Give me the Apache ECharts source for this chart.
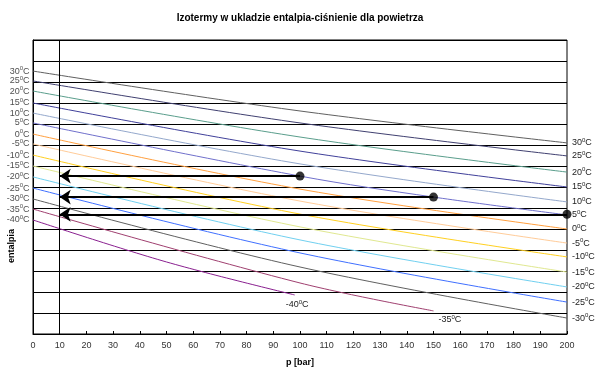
<!DOCTYPE html>
<html><head><meta charset="utf-8">
<script src="https://cdn.jsdelivr.net/npm/echarts@6/dist/echarts.min.js"></script>
<style>html,body{margin:0;padding:0;background:#fff}#c{width:600px;height:373px}</style>
</head><body><div id="c"></div>
<script>
// ---- data (enthalpy in arbitrary units, 10 per grid step) ----
const titleText = 'Izotermy w ukladzie entalpia-ciśnienie dla powietrza';
const yName = 'entalpia';
const temps = ['30','25','20','15','10','5','0','-5','-10','-15','-20','-25','-30','-35','-40'];
const pFull = [0, 100, 200];
const h30 = [125.2, 106.2, 91.0];
const h25 = [120.5, 100.5, 84.8];
const h20 = [115.7, 93.8, 77.1];
const h15 = [110.0, 87.1, 70.0];
const h10 = [105.2, 81.0, 62.9];
const p5  = [0, 100, 150, 200];
const h5  = [100.5, 75.2, 65.2, 56.7];
const h0  = [95.2, 69.0, 50.0];
const hm5 = [90.5, 63.3, 43.3];
const hm10 = [85.2, 57.1, 36.7];
const hm15 = [80.0, 51.0, 29.5];
const hm20 = [74.8, 44.8, 22.4];
const hm25 = [69.5, 38.6, 15.2];
const hm30 = [64.3, 31.9, 7.6];
const pm35 = [0, 100, 150];
const hm35 = [59.5, 24.3, 11.0];
const pm40 = [0, 50, 98];
const hm40 = [54.3, 34.3, 18.6];
const markerP = [100, 150, 200];
const markerH = [75.2, 65.2, 57.0];
const arrowEndP = 10;
const xTicks = [0, 200, 10];

const isoP = [pFull,pFull,pFull,pFull,pFull,p5,pFull,pFull,pFull,pFull,pFull,pFull,pFull,pm35,pm40];
const isoH = [h30,h25,h20,h15,h10,h5,h0,hm5,hm10,hm15,hm20,hm25,hm30,hm35,hm40];
const colors = ['#606060','#404070','#5a9e8c','#40409a','#94a8cc','#7070cc','#ffa040','#ffcc99','#ffd020','#e0e890','#70d0f0','#4070ff','#606060','#a04070','#8a2090'];

const rich = {
  t: {fontSize: 9, color: '#222', fontFamily: 'Liberation Sans', lineHeight: 11},
  s: {fontSize: 6, color: '#222', fontFamily: 'Liberation Sans', lineHeight: 11, verticalAlign: 'top', padding: [0,0,4,0]}
};
const fmt = t => '{t|' + t + '}{s|0}{t|C}';

const series = temps.map((t, i) => {
  const short = (t === '-35' || t === '-40');
  return {
    type: 'line', data: isoP[i].map((p, j) => [p, isoH[i][j]]), smooth: 0.35, symbol: 'none',
    silent: true,
    lineStyle: {color: colors[i], width: 1},
    endLabel: {show: true, distance: 5, formatter: fmt(t), rich: rich,
      offset: short ? (t === '-40' ? [-14, 10] : [0, 9]) : [0, 0]},
    z: 3
  };
});

// left-side start labels
series.push({
  type: 'scatter', silent: true, clip: false, z: 4,
  data: temps.map((t, i) => ({value: [isoP[i][0], isoH[i][0]], name: t})),
  symbol: 'circle', symbolSize: 1, itemStyle: {color: 'rgba(0,0,0,0)'},
  label: {show: true, position: 'left', distance: 3, formatter: p => fmt(p.name), rich: rich},
  labelLayout: {hideOverlap: false}
});

series.push({
  type: 'lines', coordinateSystem: 'cartesian2d', silent: true,
  data: markerP.map((p, i) => ({coords: [[p, markerH[i]], [arrowEndP, markerH[i]]]})),
  lineStyle: {color: '#000', width: 2, opacity: 1},
  symbol: ['none', 'arrow'], symbolSize: [9, 11], z: 5
});
series.push({
  type: 'scatter', data: markerP.map((p, i) => [p, markerH[i]]),
  symbol: 'circle', symbolSize: 9, itemStyle: {color: '#000'}, silent: true, z: 6, clip: false,
  markLine: {silent: true, symbol: 'none', label: {show: false},
    lineStyle: {color: '#000', width: 1, type: 'solid'},
    data: [{xAxis: arrowEndP}]}
});

const chart = echarts.init(document.getElementById('c'), null, {renderer: 'canvas'});
chart.setOption({
  animation: false,
  backgroundColor: '#fff',
  title: {text: titleText, left: 'center', top: 8,
    textStyle: {fontSize: 10, fontWeight: 'bold', color: '#000', fontFamily: 'Liberation Sans'}},
  grid: {left: 33, right: 33, top: 40, bottom: 39, show: true, borderColor: '#000', borderWidth: 1},
  graphic: [{type: 'text', left: 7, top: 229, rotation: Math.PI / 2,
    style: {text: yName, font: 'bold 9px "Liberation Sans"', fill: '#000'}}],
  xAxis: {type: 'value', min: xTicks[0], max: xTicks[1], interval: xTicks[2],
    name: 'p [bar]', nameLocation: 'middle', nameGap: 24,
    nameTextStyle: {fontSize: 9, fontWeight: 'bold', color: '#000', fontFamily: 'Liberation Sans'},
    axisLine: {lineStyle: {color: '#000'}},
    axisTick: {inside: true, length: 3, lineStyle: {color: '#000'}},
    axisLabel: {fontSize: 9, color: '#333', fontFamily: 'Liberation Sans', margin: 7},
    splitLine: {show: false}},
  yAxis: {type: 'value', min: 0, max: 140, interval: 10,
    axisLine: {show: true, lineStyle: {color: '#000'}},
    axisTick: {show: false}, axisLabel: {show: false},
    splitLine: {show: true, lineStyle: {color: '#000', width: 1}}},
  series: series
});
</script></body></html>
